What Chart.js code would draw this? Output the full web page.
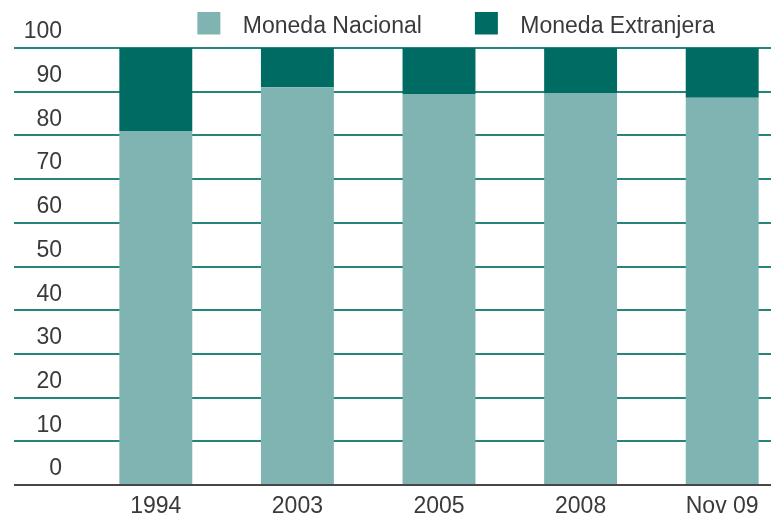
<!DOCTYPE html>
<html>
<head>
<meta charset="utf-8">
<script src="https://cdn.jsdelivr.net/npm/chart.js@4/dist/chart.umd.min.js"></script>
<style>
  html, body { margin: 0; padding: 0; background: #fff; overflow: hidden; }
  #wrap { width: 800px; height: 514px; }
</style>
</head>
<body>
<div id="wrap"><canvas id="chart"></canvas></div>
<script>
const YEARS = ['1994', '2003', '2005', '2008', 'Nov 09'];
const NACIONAL = [81, 91, 89.5, 89.6, 88.6];
const EXTRANJERA = [19, 9, 10.5, 10.4, 11.4];

const LIGHT = '#80b4b2';
const DARK = '#006b63';
const GRID = '#25857b';
const AXIS = '#474747';
const TEXT = '#3a3a3a';

// legend swatch: square with empty space left of it and a gap after it
function swatch(color) {
    const c = document.createElement('canvas');
    c.width = 77;
    c.height = 30;
    const g = c.getContext('2d');
    g.fillStyle = color;
    g.fillRect(43, 0, 23, 23);
    return c;
}
const SWATCHES = [swatch(LIGHT), swatch(DARK)];

// legend sits right of centre in the original
const shiftLegend = {
    id: 'shiftLegend',
    afterLayout(chart) { chart.legend.left = 76; }
};

Chart.defaults.font.family = '"Liberation Sans", Arial, sans-serif';
Chart.defaults.font.size = 23;
Chart.defaults.color = TEXT;

new Chart(document.getElementById('chart'), {
    type: 'bar',
    data: {
        labels: YEARS,
        datasets: [
            { label: 'Moneda Nacional', data: NACIONAL, backgroundColor: LIGHT },
            { label: 'Moneda Extranjera', data: EXTRANJERA, backgroundColor: DARK }
        ]
    },
    plugins: [shiftLegend],
    options: {
        responsive: true,
        maintainAspectRatio: false,
        animation: false,
        categoryPercentage: 1,
        barPercentage: 0.515,
        layout: { padding: { left: 0, right: 7, top: 5, bottom: 0 } },
        plugins: {
            tooltip: { enabled: false },
            legend: {
                position: 'top',
                labels: {
                    usePointStyle: true,
                    pointStyleWidth: 77,
                    boxHeight: 22,
                    padding: 10,
                    color: TEXT,
                    generateLabels: chart =>
                        Chart.defaults.plugins.legend.labels.generateLabels(chart)
                            .map((item, i) => ({ ...item, pointStyle: SWATCHES[i] }))
                }
            }
        },
        scales: {
            x: {
                stacked: true,
                z: 1,
                grid: { display: false },
                border: { display: true, color: AXIS, width: 2 },
                ticks: { padding: 0, color: TEXT },
                afterFit: s => { s.height = 29; }
            },
            y: {
                stacked: true,
                min: 0,
                max: 100,
                border: { display: false },
                grid: {
                    color: c => c.tick && c.tick.value === 0 ? AXIS : GRID,
                    lineWidth: 2,
                    tickLength: 71
                },
                ticks: {
                    stepSize: 10,
                    padding: -48,
                    labelOffset: -16,
                    color: TEXT
                },
                afterFit: s => { s.width = 85; }
            }
        }
    }
});
</script>
</body>
</html>
